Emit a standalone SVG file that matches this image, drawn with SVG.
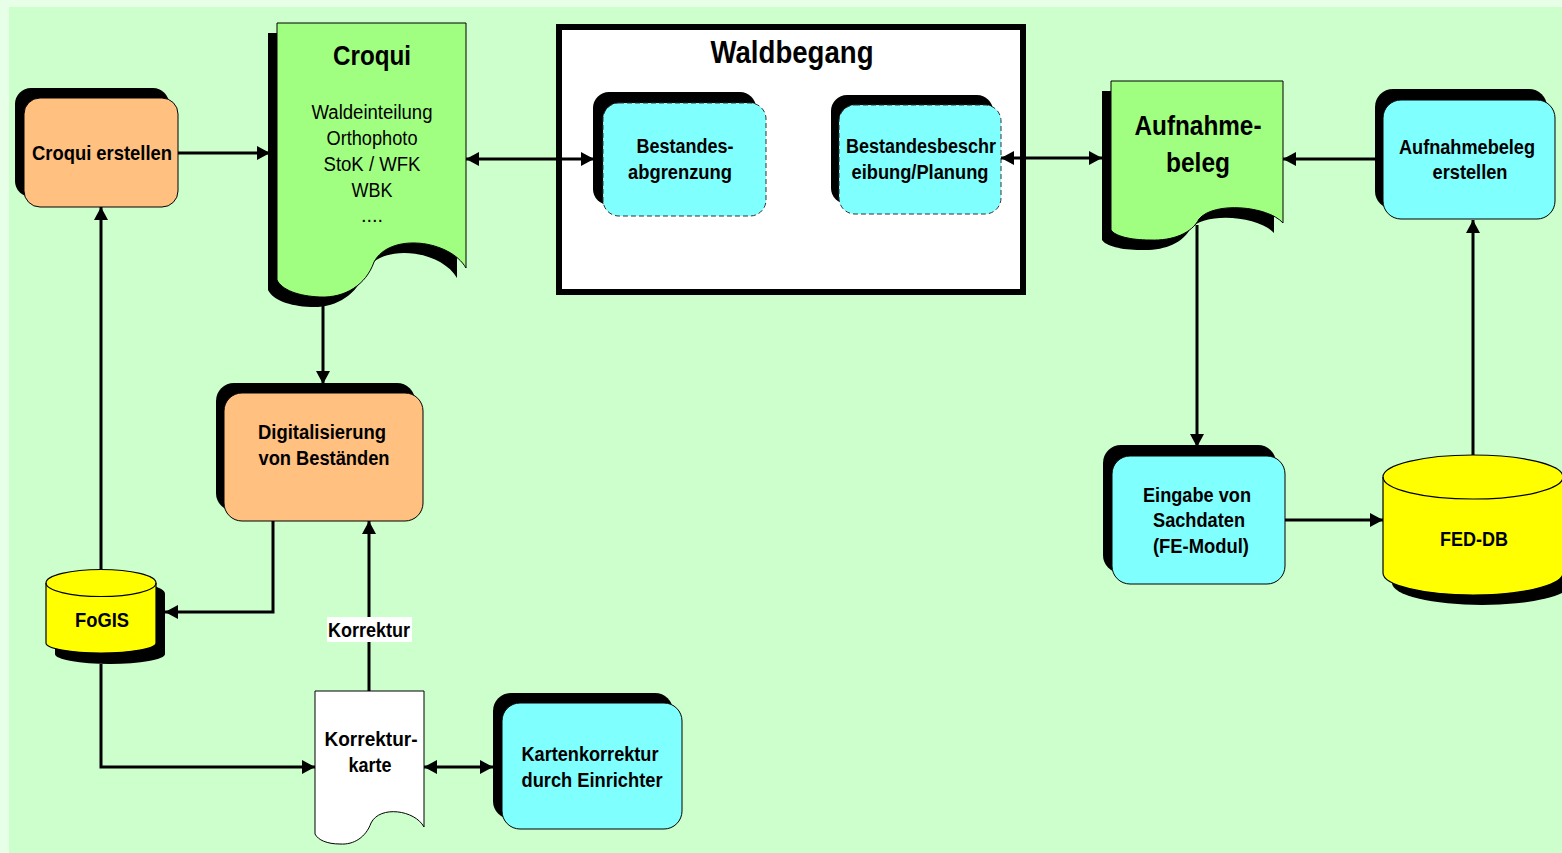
<svg xmlns="http://www.w3.org/2000/svg" width="1562" height="853" viewBox="0 0 1562 853">
<defs>
<marker id="ah" markerUnits="userSpaceOnUse" markerWidth="14" markerHeight="14" refX="13" refY="7" orient="auto-start-reverse">
<path d="M0,0 L13,7 L0,14 Z" fill="#000"/>
</marker>
<style>
.t{font-family:"Liberation Sans",Arial,sans-serif;fill:#000;text-anchor:middle}
.b{font-weight:bold}
.sh{fill:#000}
.peach{fill:#FFC080;stroke:#000;stroke-width:1}
.cyan{fill:#80FFFF;stroke:#000;stroke-width:1}
.cyand{fill:#80FFFF;stroke:#333;stroke-width:1;stroke-dasharray:5,3}
.doc{fill:#A0FF80;stroke:#000;stroke-width:1}
.cyl{fill:#FFFF00;stroke:#000;stroke-width:1.2}
.ln{fill:none;stroke:#000;stroke-width:3}
</style>
</defs>
<rect x="0" y="0" width="1562" height="853" fill="#E6FFE6"/>
<rect x="9" y="7" width="1553" height="846" fill="#CCFFCC"/>

<g id="croqui-erstellen">
<rect class="sh" x="15" y="88" width="154" height="109" rx="16"/>
<rect class="peach" x="24" y="98" width="154" height="109" rx="16"/>
<text class="t b" x="102" y="160" font-size="21" textLength="140" lengthAdjust="spacingAndGlyphs">Croqui erstellen</text>
</g>

<g id="croqui">
<path class="sh" transform="translate(-9,10)" d="M277,23 H466 V268 C450,240 390,232 374,262 C366,285 345,298 320,297 C298,296 282,290 277,280 Z"/>
<path class="doc" d="M277,23 H466 V268 C450,240 390,232 374,262 C366,285 345,298 320,297 C298,296 282,290 277,280 Z"/>
<text class="t b" x="372" y="65" font-size="28" textLength="78" lengthAdjust="spacingAndGlyphs">Croqui</text>
<text class="t" x="372" y="119" font-size="20" textLength="121" lengthAdjust="spacingAndGlyphs">Waldeinteilung</text>
<text class="t" x="372" y="145" font-size="20" textLength="91" lengthAdjust="spacingAndGlyphs">Orthophoto</text>
<text class="t" x="372" y="171" font-size="20" textLength="97" lengthAdjust="spacingAndGlyphs">StoK / WFK</text>
<text class="t" x="372" y="197" font-size="20" textLength="41" lengthAdjust="spacingAndGlyphs">WBK</text>
<text class="t" x="372" y="222" font-size="20">....</text>
</g>

<g id="waldbegang">
<rect x="559" y="27" width="464" height="265" fill="#fff" stroke="#000" stroke-width="6"/>
<text class="t b" x="792" y="63" font-size="31" textLength="163" lengthAdjust="spacingAndGlyphs">Waldbegang</text>
</g>

<g id="bestandesabgrenzung">
<rect class="sh" x="593" y="92" width="163" height="113" rx="16"/>
<rect class="cyand" x="603" y="103" width="163" height="113" rx="16"/>
<text class="t b" x="685" y="153" font-size="20" textLength="97" lengthAdjust="spacingAndGlyphs">Bestandes-</text>
<text class="t b" x="680" y="179" font-size="20" textLength="104" lengthAdjust="spacingAndGlyphs">abgrenzung</text>
</g>

<g id="bestandesbeschreibung">
<rect class="sh" x="831" y="95" width="162" height="109" rx="16"/>
<rect class="cyand" x="839" y="105" width="162" height="109" rx="16"/>
<text class="t b" x="921" y="153" font-size="20" textLength="150" lengthAdjust="spacingAndGlyphs">Bestandesbeschr</text>
<text class="t b" x="920" y="179" font-size="20" textLength="137" lengthAdjust="spacingAndGlyphs">eibung/Planung</text>
</g>

<g id="aufnahmebeleg">
<path class="sh" transform="translate(-9,10)" d="M1111,81 H1283 V223 C1268,206 1214,201 1199,219 C1192,233 1173,241 1150,240 C1130,240 1115,236 1111,230 Z"/>
<path class="doc" d="M1111,81 H1283 V223 C1268,206 1214,201 1199,219 C1192,233 1173,241 1150,240 C1130,240 1115,236 1111,230 Z"/>
<text class="t b" x="1198" y="135" font-size="28" textLength="127" lengthAdjust="spacingAndGlyphs">Aufnahme-</text>
<text class="t b" x="1198" y="172" font-size="28" textLength="64" lengthAdjust="spacingAndGlyphs">beleg</text>
</g>

<g id="aufnahmebeleg-erstellen">
<rect class="sh" x="1375" y="89" width="172" height="120" rx="18"/>
<rect class="cyan" x="1383" y="100" width="172" height="119" rx="18"/>
<text class="t b" x="1467" y="154" font-size="20" textLength="136" lengthAdjust="spacingAndGlyphs">Aufnahmebeleg</text>
<text class="t b" x="1470" y="179" font-size="20" textLength="75" lengthAdjust="spacingAndGlyphs">erstellen</text>
</g>

<g id="digitalisierung">
<rect class="sh" x="216" y="383" width="199" height="128" rx="18"/>
<rect class="peach" x="224" y="393" width="199" height="128" rx="18"/>
<text class="t b" x="322" y="439" font-size="20" textLength="128" lengthAdjust="spacingAndGlyphs">Digitalisierung</text>
<text class="t b" x="324" y="465" font-size="20" textLength="131" lengthAdjust="spacingAndGlyphs">von Beständen</text>
</g>

<g id="fogis">
<path class="sh" transform="translate(9,11)" d="M46,583 A55,13.5 0 0 1 156,583 V643 A55,10 0 0 1 46,643 Z"/>
<path class="cyl" d="M46,583 A55,13.5 0 0 1 156,583 V643 A55,10 0 0 1 46,643 Z"/>
<path d="M46,583 A55,13.5 0 0 0 156,583" fill="none" stroke="#000" stroke-width="1.2"/>
<text class="t b" x="102" y="627" font-size="20" textLength="54" lengthAdjust="spacingAndGlyphs">FoGIS</text>
</g>

<g id="eingabe-sachdaten">
<rect class="sh" x="1103" y="445" width="173" height="128" rx="18"/>
<rect class="cyan" x="1112" y="456" width="173" height="128" rx="18"/>
<text class="t b" x="1197" y="502" font-size="20" textLength="108" lengthAdjust="spacingAndGlyphs">Eingabe von</text>
<text class="t b" x="1199" y="527" font-size="20" textLength="92" lengthAdjust="spacingAndGlyphs">Sachdaten</text>
<text class="t b" x="1201" y="553" font-size="20" textLength="96" lengthAdjust="spacingAndGlyphs">(FE-Modul)</text>
</g>

<g id="fed-db">
<path class="sh" transform="translate(9,10)" d="M1383,477 A90,22 0 0 1 1563,477 V573 A90,22 0 0 1 1383,573 Z"/>
<path class="cyl" d="M1383,477 A90,22 0 0 1 1563,477 V573 A90,22 0 0 1 1383,573 Z"/>
<path d="M1383,477 A90,22 0 0 0 1563,477" fill="none" stroke="#000" stroke-width="1.2"/>
<text class="t b" x="1474" y="546" font-size="20" textLength="68" lengthAdjust="spacingAndGlyphs">FED-DB</text>
</g>

<g id="korrekturkarte">
<path d="M315,691 H424 V827 C415,810 380,805 371,823 C366,837 354,845 340,844 C327,844 318,840 315,834 Z" fill="#fff" stroke="#000" stroke-width="1"/>
<text class="t b" x="371" y="746" font-size="20" textLength="93" lengthAdjust="spacingAndGlyphs">Korrektur-</text>
<text class="t b" x="370" y="772" font-size="20" textLength="43" lengthAdjust="spacingAndGlyphs">karte</text>
</g>

<g id="kartenkorrektur">
<rect class="sh" x="493" y="693" width="180" height="126" rx="18"/>
<rect class="cyan" x="502" y="703" width="180" height="126" rx="18"/>
<text class="t b" x="590" y="761" font-size="20" textLength="137" lengthAdjust="spacingAndGlyphs">Kartenkorrektur</text>
<text class="t b" x="592" y="787" font-size="20" textLength="141" lengthAdjust="spacingAndGlyphs">durch Einrichter</text>
</g>

<g id="connectors">
<path class="ln" d="M178,153 H270" marker-end="url(#ah)"/>
<path class="ln" d="M466,159 H594" marker-start="url(#ah)" marker-end="url(#ah)"/>
<path class="ln" d="M1001,158 H1102" marker-start="url(#ah)" marker-end="url(#ah)"/>
<path class="ln" d="M1375,159 H1283" marker-end="url(#ah)"/>
<path class="ln" d="M1197,225 V447" marker-end="url(#ah)"/>
<path class="ln" d="M1285,520 H1383" marker-end="url(#ah)"/>
<path class="ln" d="M1473,455 V220" marker-end="url(#ah)"/>
<path class="ln" d="M101,570 V207" marker-end="url(#ah)"/>
<path class="ln" d="M323,298 V384" marker-end="url(#ah)"/>
<path class="ln" d="M273,521 V612 H165" marker-end="url(#ah)"/>
<path class="ln" d="M369,691 V521" marker-end="url(#ah)"/>
<path class="ln" d="M101,664 V767 H315" marker-end="url(#ah)"/>
<path class="ln" d="M424,767 H493" marker-start="url(#ah)" marker-end="url(#ah)"/>
<rect x="327" y="617" width="85" height="25" fill="#fff"/>
<text class="t b" x="369" y="637" font-size="20" textLength="82" lengthAdjust="spacingAndGlyphs">Korrektur</text>
</g>
</svg>
